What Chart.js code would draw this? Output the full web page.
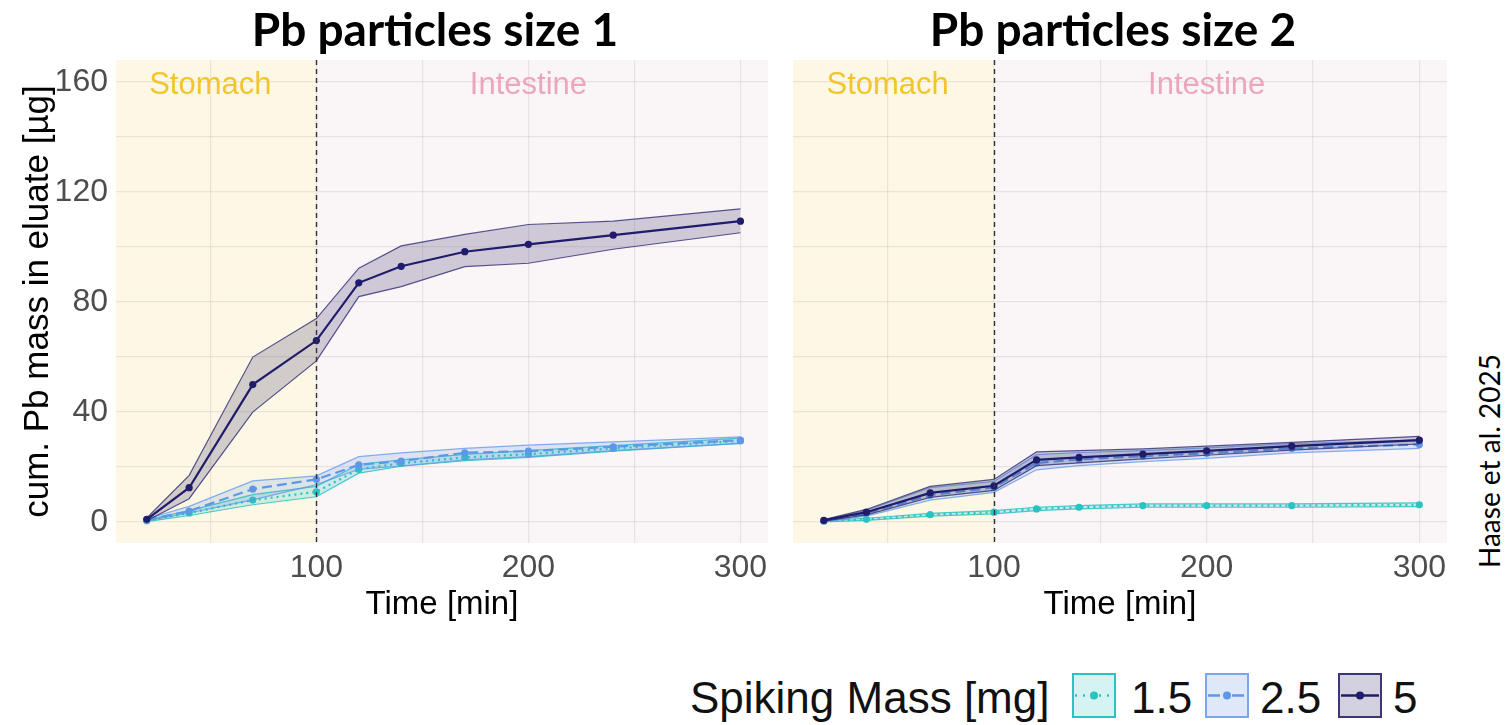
<!DOCTYPE html>
<html>
<head>
<meta charset="utf-8">
<script src="https://cdn.jsdelivr.net/npm/chart.js@4.4.1/dist/chart.umd.min.js"></script>
<style>
  html, body { margin: 0; padding: 0; background: #ffffff; }
  body { width: 1505px; height: 725px; position: relative; overflow: hidden; font-family: "Liberation Sans", Arial, sans-serif; }
  canvas { position: absolute; top: 0; }
  .title { position: absolute; top: 6px; font-family: Lato, "Open Sans", sans-serif; font-weight: 700; font-size: 46px; line-height: 46px; white-space: nowrap; color: #000; transform: translateX(-50%); }
  .leg { position: absolute; top: 676px; font-size: 44px; line-height: 44px; white-space: nowrap; color: #111; }
  .key { position: absolute; top: 673px; }
  .cite { position: absolute; left: 1359px; top: 444px; width: 260px; height: 34px; line-height: 34px; text-align: center; font-family: Lato, "Open Sans", sans-serif; font-size: 28px; color: #000; transform: rotate(-90deg); white-space: nowrap; }
</style>
</head>
<body>
<canvas id="c1" width="775" height="650" style="left:0px"></canvas>
<canvas id="c2" width="680" height="650" style="left:775px"></canvas>

<div class="title" style="left:435px">Pb particles size 1</div>
<div class="title" style="left:1113px">Pb particles size 2</div>

<div class="leg" style="left:690px">Spiking Mass [mg]</div>
<svg class="key" style="left:1072px" width="44" height="45" viewBox="0 0 44 45">
  <rect x="1" y="1" width="42" height="43" fill="#d6f3f3" stroke="#2bc2c2" stroke-width="2"/>
  <line x1="3" y1="22.5" x2="41" y2="22.5" stroke="#2bc2c2" stroke-width="2.5" stroke-dasharray="2,6"/>
  <circle cx="22" cy="22.5" r="4" fill="#2bc2c2"/>
</svg>
<div class="leg" style="left:1131px">1.5</div>
<svg class="key" style="left:1205px" width="44" height="45" viewBox="0 0 44 45">
  <rect x="1" y="1" width="42" height="43" fill="#dfe8f8" stroke="#7da6e8" stroke-width="2"/>
  <line x1="3" y1="22.5" x2="41" y2="22.5" stroke="#5f97e8" stroke-width="2.5" stroke-dasharray="12,4,4,4"/>
  <circle cx="22" cy="22.5" r="4" fill="#5f97e8"/>
</svg>
<div class="leg" style="left:1260px">2.5</div>
<svg class="key" style="left:1338px" width="44" height="45" viewBox="0 0 44 45">
  <rect x="1" y="1" width="42" height="43" fill="#d3d1e0" stroke="#3a3678" stroke-width="2"/>
  <line x1="3" y1="22.5" x2="41" y2="22.5" stroke="#1f1c6b" stroke-width="2.5"/>
  <circle cx="22" cy="22.5" r="4" fill="#1f1c6b"/>
</svg>
<div class="leg" style="left:1393px">5</div>

<div class="cite">Haase et al. 2025</div>

<script>
// ---------------- data ----------------
const times = [20, 40, 70, 100, 120, 140, 170, 200, 240, 300];

// Size 1 panel
const s1_m15    = [0.5, 3.3, 8.0, 11.0, 19.2, 21.4, 23.5, 24.7, 26.8, 29.5];
const s1_m15_hi = [0.8, 4.2, 10.0, 13.0, 21.0, 22.6, 24.6, 26.0, 27.8, 30.5];
const s1_m15_lo = [0.2, 2.4, 6.3, 9.2, 17.8, 20.3, 22.3, 23.5, 25.8, 28.6];

const s1_m25    = [0.8, 4.0, 12.0, 15.5, 20.8, 22.2, 25.2, 25.8, 27.4, 29.8];
const s1_m25_hi = [1.2, 5.7, 15.0, 16.8, 23.8, 25.2, 26.8, 28.0, 29.2, 31.0];
const s1_m25_lo = [0.4, 3.3, 8.1, 13.6, 19.2, 20.4, 22.6, 23.8, 26.0, 28.6];

const s1_m5    = [1.0, 12.5, 50.0, 66.0, 87.0, 93.0, 98.3, 101.0, 104.3, 109.4];
const s1_m5_hi = [1.5, 17.0, 60.0, 74.0, 92.3, 100.4, 104.6, 108.2, 109.4, 113.9];
const s1_m5_lo = [0.5, 8.5, 40.0, 58.6, 82.0, 85.6, 92.9, 94.1, 99.2, 105.2];

// Size 2 panel
const s2_m15    = [0.3, 1.0, 2.7, 3.6, 4.8, 5.4, 6.0, 6.0, 6.0, 6.3];
const s2_m15_hi = [0.5, 1.4, 3.2, 4.2, 5.4, 6.0, 6.6, 6.6, 6.6, 7.0];
const s2_m15_lo = [0.1, 0.6, 2.2, 3.0, 4.2, 4.8, 5.4, 5.4, 5.4, 5.6];

const s2_m25    = [0.5, 3.2, 9.8, 12.6, 21.5, 22.8, 24.0, 25.0, 26.8, 28.2];
const s2_m25_hi = [0.8, 4.3, 12.5, 14.8, 24.5, 25.3, 26.0, 27.0, 28.5, 29.8];
const s2_m25_lo = [0.2, 2.2, 8.0, 10.8, 19.0, 20.5, 22.0, 23.2, 25.2, 26.8];

const s2_m5    = [0.6, 3.6, 10.6, 13.2, 22.6, 23.5, 24.7, 25.9, 27.6, 29.8];
const s2_m5_hi = [0.9, 4.6, 13.0, 15.5, 25.5, 26.0, 26.6, 27.6, 29.0, 31.2];
const s2_m5_lo = [0.3, 2.6, 9.0, 11.5, 20.5, 21.5, 23.0, 24.3, 26.2, 28.4];

// ticks / gridlines
const xGrid = [50, 100, 150, 200, 250, 300];
const xLabeled = [100, 200, 300];
const yGrid = [0, 20, 40, 60, 80, 100, 120, 140, 160];
const yLabeled = [0, 40, 80, 120, 160];

// phases
const phaseSplit = 100;
const phaseLabels = ["Stomach", "Intestine"];
const phaseLabelX = [50, 200];
const phaseLabelY = 160;

// ---------------- styling ----------------
const styles = {
  m15: { line: '#2bc2c2', fill: 'rgba(43,194,194,0.22)', edge: 'rgba(43,194,194,0.85)', dash: [2, 4] },
  m25: { line: '#5f97e8', fill: 'rgba(95,151,232,0.20)', edge: 'rgba(95,151,232,0.75)', dash: [10, 5] },
  m5:  { line: '#1f1c6b', fill: 'rgba(55,45,105,0.22)',  edge: 'rgba(60,55,125,0.85)', dash: [] }
};

const pts = arr => times.map((t, i) => ({ x: t, y: arr[i] }));

function group(mean, hi, lo, st) {
  return [
    { data: pts(mean), borderColor: st.line, backgroundColor: st.line, borderWidth: 2.2,
      borderDash: st.dash, pointRadius: 3.6, pointBackgroundColor: st.line, pointBorderWidth: 0, fill: false },
    { data: pts(hi), borderColor: st.edge, borderWidth: 1.2, pointRadius: 0, fill: '+1', backgroundColor: st.fill },
    { data: pts(lo), borderColor: st.edge, borderWidth: 1.2, pointRadius: 0, fill: false }
  ];
}

const phasePlugin = {
  id: 'phases',
  beforeDraw(chart) {
    const { ctx, chartArea: a, scales: { x } } = chart;
    const xs = x.getPixelForValue(phaseSplit);
    ctx.save();
    ctx.fillStyle = '#fdf8e5';
    ctx.fillRect(a.left, a.top, xs - a.left, a.bottom - a.top);
    ctx.fillStyle = '#faf5f7';
    ctx.fillRect(xs, a.top, a.right - xs, a.bottom - a.top);
    ctx.restore();
  },
  beforeDatasetsDraw(chart) {
    const { ctx, scales: { x, y } } = chart;
    ctx.save();
    ctx.font = '31px "Liberation Sans", Arial, sans-serif';
    ctx.textAlign = 'center';
    ctx.textBaseline = 'alphabetic';
    const colors = ['#f2c52c', '#eba6bd'];
    phaseLabels.forEach((t, i) => {
      ctx.fillStyle = colors[i];
      ctx.fillText(t, x.getPixelForValue(phaseLabelX[i]), y.getPixelForValue(phaseLabelY) + 12);
    });
    ctx.restore();
  },
  afterDatasetsDraw(chart) {
    const { ctx, chartArea: a, scales: { x } } = chart;
    const xs = Math.round(x.getPixelForValue(phaseSplit)) + 0.5;
    ctx.save();
    ctx.strokeStyle = '#333333';
    ctx.lineWidth = 1.4;
    ctx.setLineDash([5, 4]);
    ctx.beginPath();
    ctx.moveTo(xs, a.top);
    ctx.lineTo(xs, a.bottom);
    ctx.stroke();
    ctx.restore();
  }
};

Chart.defaults.font.family = '"Liberation Sans", Arial, sans-serif';
const gridColor = 'rgba(180,168,168,0.24)';

function makeChart(id, sets, withYAxis, yWidth, padRight) {
  return new Chart(document.getElementById(id), {
    type: 'line',
    data: { datasets: sets },
    plugins: [phasePlugin],
    options: {
      responsive: false,
      animation: false,
      devicePixelRatio: 1,
      layout: { padding: { top: 60, right: padRight, left: 0, bottom: 0 } },
      elements: { line: { tension: 0 } },
      plugins: { legend: { display: false }, tooltip: { enabled: false } },
      scales: {
        x: {
          type: 'linear', min: 5.5, max: 313,
          afterBuildTicks: s => { s.ticks = xGrid.map(v => ({ value: v })); },
          afterFit: s => { s.height = 107; },
          grid: { color: gridColor, lineWidth: 1.2, drawTicks: false },
          border: { display: false },
          ticks: { autoSkip: false, maxRotation: 0, padding: 6, color: '#4d4d4d',
                   font: { size: 32 }, callback: v => xLabeled.includes(v) ? String(v) : '' },
          title: { display: true, text: 'Time [min]', color: '#000', font: { size: 33 },
                   padding: { top: 0, bottom: 25 } }
        },
        y: {
          type: 'linear', min: -7.6, max: 168,
          afterBuildTicks: s => { s.ticks = yGrid.map(v => ({ value: v })); },
          afterFit: s => { s.width = yWidth; },
          grid: { color: gridColor, lineWidth: 1.2, drawTicks: false },
          border: { display: false },
          ticks: { display: withYAxis, padding: 8, color: '#4d4d4d', font: { size: 32 },
                   callback: v => yLabeled.includes(v) ? String(v) : '' },
          title: { display: withYAxis, text: 'cum. Pb mass in eluate [µg]', color: '#000',
                   font: { size: 35 }, padding: { top: 17, bottom: 0 } }
        }
      }
    }
  });
}

const sets1 = [
  ...group(s1_m5, s1_m5_hi, s1_m5_lo, styles.m5),
  ...group(s1_m25, s1_m25_hi, s1_m25_lo, styles.m25),
  ...group(s1_m15, s1_m15_hi, s1_m15_lo, styles.m15)
];
const sets2 = [
  ...group(s2_m5, s2_m5_hi, s2_m5_lo, styles.m5),
  ...group(s2_m25, s2_m25_hi, s2_m25_lo, styles.m25),
  ...group(s2_m15, s2_m15_hi, s2_m15_lo, styles.m15)
];

makeChart('c1', sets1, true, 116, 7);
makeChart('c2', sets2, false, 18, 8);
</script>
</body>
</html>
